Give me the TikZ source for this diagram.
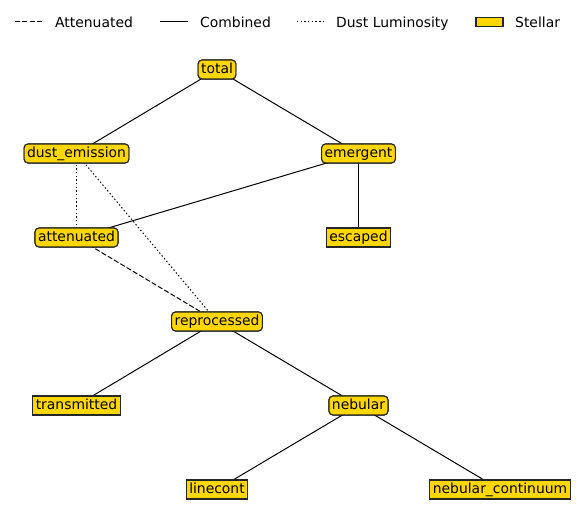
\documentclass[tikz,border=0pt]{standalone}
\usepackage{fontspec}
\setmainfont{DejaVu Sans}
\definecolor{gold}{HTML}{FFD700}
\definecolor{edgegray}{HTML}{262626}
\tikzset{
  rbox/.style={draw=edgegray, fill=gold, rounded corners=4pt, inner xsep=3pt, inner ysep=3pt, line width=1.1pt, font=\fontsize{13.9}{16}\selectfont, text height=10.2pt, text depth=2.8pt},
  sbox/.style={rbox, rounded corners=0pt},
  link/.style={line width=1pt, black},
  dustlink/.style={link, dash pattern=on 1.39pt off 2.3pt},
  attlink/.style={link, dash pattern=on 5.1pt off 2.2pt},
  legtext/.style={anchor=west, font=\fontsize{13.9}{16}\selectfont, inner sep=0pt, text height=10.2pt, text depth=2.8pt}
}
\begin{document}
\begin{tikzpicture}[x=1pt,y=-1pt]
\useasboundingbox (0,0) rectangle (576,521);
% nodes
\node[rbox] (total) at (217,69.5) {total};
\node[rbox] (dust) at (76.5,153.5) {dust\_emission};
\node[rbox] (emergent) at (358.5,153.5) {emergent};
\node[rbox] (att) at (76.5,237.5) {attenuated};
\node[sbox] (escaped) at (358.5,237.5) {escaped};
\node[rbox] (repro) at (217,321.5) {reprocessed};
\node[sbox] (trans) at (76.5,405.5) {transmitted};
\node[rbox] (neb) at (358.5,405.5) {nebular};
\node[sbox] (linecont) at (217,489.5) {linecont};
\node[sbox] (nebcont) at (500,489.5) {nebular\_continuum};
% edges
\draw[link] (total.center) -- (dust.center);
\draw[link] (total.center) -- (emergent.center);
\draw[link] (emergent.center) -- (att.center);
\draw[link] (emergent.center) -- (escaped.center);
\draw[dustlink] (dust.center) -- (att.center);
\draw[dustlink] (dust.center) -- (repro.center);
\draw[attlink] (att.center) -- (repro.center);
\draw[link] (repro.center) -- (trans.center);
\draw[link] (repro.center) -- (neb.center);
\draw[link] (neb.center) -- (linecont.center);
\draw[link] (neb.center) -- (nebcont.center);
% redraw nodes on top
\node[rbox] at (total) {total};
\node[rbox] at (dust) {dust\_emission};
\node[rbox] at (emergent) {emergent};
\node[rbox] at (att) {attenuated};
\node[sbox] at (escaped) {escaped};
\node[rbox] at (repro) {reprocessed};
\node[sbox] at (trans) {transmitted};
\node[rbox] at (neb) {nebular};
\node[sbox] at (linecont) {linecont};
\node[sbox] at (nebcont) {nebular\_continuum};
% legend
\coordinate (l1a) at (15,22); \coordinate (l1b) at (43,22);
\draw[attlink] (l1a) -- (l1b);
\node[legtext] (lt1) at (55,23.5) {Attenuated};
\coordinate (l2a) at (160,22); \coordinate (l2b) at (188,22);
\draw[link] (l2a) -- (l2b);
\node[legtext] (lt2) at (200,23.5) {Combined};
\coordinate (l3a) at (297,22); \coordinate (l3b) at (325,22);
\draw[dustlink] (l3a) -- (l3b);
\node[legtext] (lt3) at (336,23.5) {Dust Luminosity};
\node[draw=edgegray, fill=gold, line width=1.1pt, minimum width=27pt, minimum height=9.5pt, inner sep=0pt] (l4) at (489.5,22) {};
\node[legtext] (lt4) at (515,23.5) {Stellar};
\end{tikzpicture}
\end{document}
